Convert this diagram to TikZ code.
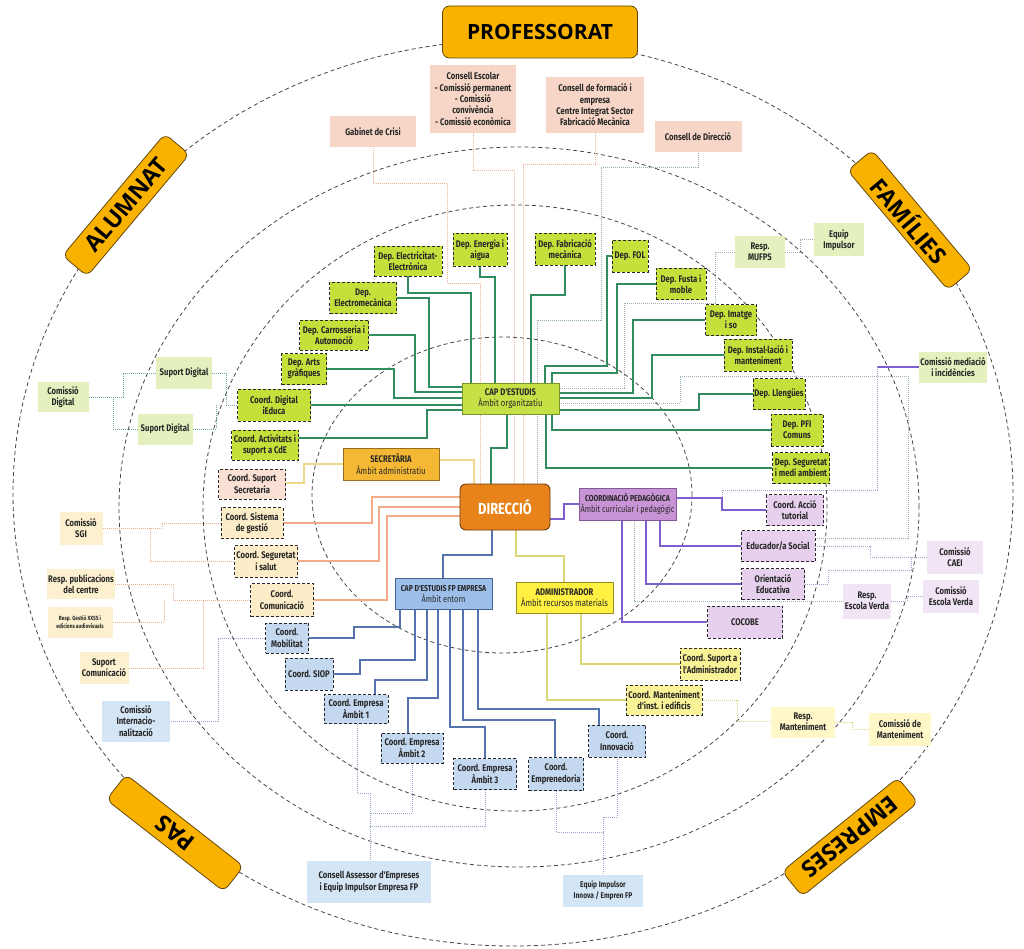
\documentclass[tikz,border=0pt]{standalone}
\usepackage{fontspec}
\setmainfont{Fira Sans}
\newfontfamily\cf[FakeStretch=0.8]{Fira Sans}
\newfontfamily\tf{Open Sans}
\usetikzlibrary{backgrounds}
\definecolor{txt}{RGB}{40,40,40}
\definecolor{orL}{RGB}{250,178,0}
\definecolor{orB}{RGB}{100,72,10}
\definecolor{dirF}{RGB}{232,131,28}
\definecolor{dirB}{RGB}{110,60,10}
\definecolor{capF}{RGB}{198,225,70}
\definecolor{capB}{RGB}{120,150,40}
\definecolor{gdepc}{RGB}{197,224,58}
\definecolor{secF}{RGB}{244,184,52}
\definecolor{secB}{RGB}{150,110,30}
\definecolor{cpedF}{RGB}{201,148,214}
\definecolor{cpedB}{RGB}{130,90,150}
\definecolor{cfpF}{RGB}{156,190,232}
\definecolor{cfpB}{RGB}{70,100,150}
\definecolor{admF}{RGB}{255,240,65}
\definecolor{admB}{RGB}{150,140,40}
\definecolor{pinkF}{RGB}{247,214,199}
\definecolor{pinkD}{RGB}{250,224,212}
\definecolor{ylD}{RGB}{252,236,200}
\definecolor{ylL}{RGB}{252,240,206}
\definecolor{lgr}{RGB}{228,241,190}
\definecolor{purD}{RGB}{230,208,238}
\definecolor{purL}{RGB}{241,229,245}
\definecolor{bluD}{RGB}{196,216,240}
\definecolor{bluL}{RGB}{212,229,246}
\definecolor{yelD}{RGB}{250,242,150}
\definecolor{yelL}{RGB}{255,247,200}
\definecolor{cGl}{RGB}{50,140,95}
\definecolor{cSal}{RGB}{242,170,135}
\definecolor{cSalD}{RGB}{240,178,150}
\definecolor{cGray}{RGB}{150,175,185}
\definecolor{cPur}{RGB}{125,95,205}
\definecolor{cPurD}{RGB}{170,160,210}
\definecolor{cBlue}{RGB}{85,115,175}
\definecolor{cBlueD}{RGB}{150,165,205}
\definecolor{cYel}{RGB}{220,215,120}
\definecolor{cSec}{RGB}{240,215,140}
\definecolor{cGD}{RGB}{110,170,150}
\definecolor{ellC}{RGB}{70,70,70}
\begin{document}
\begin{tikzpicture}[x=1pt,y=-1pt,
  every node/.style={align=center, inner sep=1pt, text=txt, font=\cf\bfseries\fontsize{9.6}{11.3}\selectfont},
  sz/.style 2 args={minimum width=#1pt, minimum height=#2pt},
  dsh/.style={draw=txt, dash pattern=on 3pt off 2pt, line width=0.8pt},
  olab/.style={draw=orB, fill=orL, rounded corners=7pt, line width=0.8pt, text=black, font=\tf\bfseries\fontsize{23}{26}\selectfont},
  gdep/.style={dsh, fill=gdepc},
  pinkbox/.style={fill=pinkF},
  pdash/.style={dsh, fill=pinkD},
  ydash/.style={dsh, fill=ylD},
  ylight/.style={fill=ylL},
  glight/.style={fill=lgr},
  udash/.style={dsh, fill=purD},
  ulight/.style={fill=purL},
  bdash/.style={dsh, fill=bluD},
  blight/.style={fill=bluL},
  kdash/.style={dsh, fill=yelD},
  klight/.style={fill=yelL},
  mainbox/.style={draw=#1, line width=0.9pt},
  ell/.style={draw=ellC, dash pattern=on 4pt off 3pt, line width=0.8pt},
  gl/.style={draw=cGl, line width=1.1pt},
  ls/.style={draw=cSal, line width=1.1pt},
  lsd/.style={draw=cSalD, line width=0.9pt, dash pattern=on 1pt off 1pt},
  gd/.style={draw=cGray, line width=0.9pt, dash pattern=on 1pt off 1pt},
  lp/.style={draw=cPur, line width=1.1pt},
  pd/.style={draw=cPurD, line width=0.9pt, dash pattern=on 1pt off 1pt},
  lb/.style={draw=cBlue, line width=1.1pt},
  bd/.style={draw=cBlueD, line width=0.9pt, dash pattern=on 1pt off 1pt},
  ly/.style={draw=cYel, line width=1.1pt},
  lyd/.style={draw=cYel, line width=0.9pt, dash pattern=on 1pt off 1pt},
  lsec/.style={draw=cSec, line width=1.1pt},
  ggd/.style={draw=cGD, line width=0.9pt, dash pattern=on 1pt off 1pt}
]
\useasboundingbox (0,0) rectangle (1024,949);

% outer labels
\node[olab, sz={195}{52}, font=\tf\bfseries\fontsize{21}{24}\selectfont] (prof) at (540,32) {PROFESSORAT};
\node[olab, sz={159}{32}, rotate=50] (alum) at (126,205) {ALUMNAT};
\node[olab, sz={156}{32}, rotate=-50] (fam) at (910,220) {FAMÍLIES};
\node[olab, sz={149}{32}, rotate=142] (pas) at (175,833) {PAS};
\node[olab, sz={149}{32}, rotate=-141] (emp) at (850,837) {EMPRESES};

% central boxes
\node[draw=dirB, fill=dirF, line width=0.9pt, rounded corners=6pt, sz={90}{46}, text=white, font=\cf\bfseries\fontsize{16}{18}\selectfont] (dir) at (505,507) {DIRECCIÓ};
\node[mainbox=capB, fill=capF, sz={97}{31}] (cap) at (510.5,398.5) {CAP D'ESTUDIS\\{\mdseries Àmbit organitzatiu}};
\node[mainbox=secB, fill=secF, sz={96}{32}] (sec) at (391,464) {SECRETÀRIA\\{\mdseries Àmbit administratiu}};
\node[mainbox=cpedB, fill=cpedF, sz={97}{32}, font=\cf\bfseries\fontsize{8.6}{11}\selectfont] (cped) at (627.5,504) {COORDINACIÓ PEDAGÒGICA\\{\mdseries\fontsize{9.2}{11}\selectfont Àmbit curricular i pedagògic}};
\node[mainbox=cfpB, fill=cfpF, sz={97}{31}, font=\cf\bfseries\fontsize{8.6}{11}\selectfont] (cfp) at (443.5,593.5) {CAP D'ESTUDIS FP EMPRESA\\{\mdseries\fontsize{9.2}{11}\selectfont Àmbit entorn}};
\node[mainbox=admB, fill=admF, sz={97}{31}] (adm) at (564.5,597.5) {ADMINISTRADOR\\{\mdseries Àmbit recursos materials}};

% pink top boxes
\node[pinkbox, sz={86}{31}] (gab) at (373,132) {Gabinet de Crisi};
\node[pinkbox, sz={86}{68}] (cesc) at (473,99) {Consell Escolar\\- Comissió permanent\\- Comissió\\convivència\\- Comissió econòmica};
\node[pinkbox, sz={98}{56}] (cform) at (595,105) {Consell de formació i\\empresa\\Centre Integrat Sector\\Fabricació Mecànica};
\node[pinkbox, sz={87}{31}] (cdir) at (698,137) {Consell de Direcció};

% green departments
\node[gdep, sz={68}{30}] (delec) at (408,261) {Dep. Electricitat-\\Electrònica};
\node[gdep, sz={54}{33}] (dener) at (480,250) {Dep. Energia i\\aigua};
\node[gdep, sz={60}{32}] (dfab) at (565,249) {Dep. Fabricació\\mecànica};
\node[gdep, sz={36}{32}] (dfol) at (630,256) {Dep. FOL};
\node[gdep, sz={67}{31}] (demec) at (363,298) {Dep.\\Electromecànica};
\node[gdep, sz={69}{30}] (dcarr) at (334,335) {Dep. Carrosseria i\\Automoció};
\node[gdep, sz={45}{31}] (darts) at (304,369) {Dep. Arts\\gràfiques};
\node[gdep, sz={73}{32}] (cdig) at (274,405) {Coord. Digital\\iEduca};
\node[gdep, sz={67}{30}] (cact) at (265,445) {Coord. Activitats i\\suport a CdE};
\node[gdep, sz={50}{31}] (dfust) at (681,284) {Dep. Fusta i\\moble};
\node[gdep, sz={51}{31}] (dimat) at (731,320) {Dep. Imatge\\i so};
\node[gdep, sz={68}{32}] (dinst) at (758,355) {Dep. Instal·lació i\\manteniment};
\node[gdep, sz={52}{31}] (dlle) at (779,394) {Dep. Llengües};
\node[gdep, sz={52}{32}] (dpfi) at (797,430) {Dep. PFI\\Comuns};
\node[gdep, sz={57}{31}] (dseg) at (801,468) {Dep. Seguretat\\i medi ambient};

% left coordinators
\node[pdash, sz={67}{30}] (csec) at (252,484) {Coord. Suport\\Secretaria};
\node[ydash, sz={62}{31}] (csist) at (252,523) {Coord. Sistema\\de gestió};
\node[ydash, sz={63}{32}] (csegs) at (266,561) {Coord. Seguretat\\i salut};
\node[ydash, sz={63}{33}] (ccom) at (282,600) {Coord.\\Comunicació};

% purple
\node[udash, sz={57}{31}] (cacc) at (795,510) {Coord. Acció\\tutorial};
\node[udash, sz={74}{31}] (edu) at (778,546) {Educador/a Social};
\node[udash, sz={63}{31}] (ori) at (773,584) {Orientació\\Educativa};
\node[udash, sz={75}{32}] (coc) at (745,622) {COCOBE};

% light green
\node[glight, sz={50}{32}] (mufps) at (760,252) {Resp.\\MUFPS};
\node[glight, sz={50}{33}] (eqi) at (839,240) {Equip\\Impulsor};
\node[glight, sz={62}{31}] (cmed) at (953,367) {Comissió mediació\\i incidències};
\node[glight, sz={51}{30}] (comdig) at (63,397) {Comissió\\Digital};
\node[glight, sz={56}{32}] (sd1) at (184,373) {Suport Digital};
\node[glight, sz={55}{31}] (sd2) at (165,429) {Suport Digital};

% light purple
\node[ulight, sz={56}{33}] (caei) at (955,557) {Comissió\\CAEI};
\node[ulight, sz={48}{35}] (rev) at (867,601) {Resp.\\Escola Verda};
\node[ulight, sz={56}{33}] (cev) at (951,596) {Comissió\\Escola Verda};

% light yellow
\node[ylight, sz={43}{33}] (sgi) at (81,528) {Comissió\\SGI};
\node[ylight, sz={65}{30}] (rpub) at (81,584) {Resp. publicacions\\del centre};
\node[ylight, sz={65}{31}, font=\cf\bfseries\fontsize{6}{8}\selectfont] (rgest) at (80,622) {Resp. Gestió XXSS i\\edicions audiovisuals};
\node[ylight, sz={49}{32}] (scom) at (104,668) {Suport\\Comunicació};

% yellow
\node[klight, sz={64}{31}] (rman) at (803,722) {Resp.\\Manteniment};
\node[klight, sz={62}{33}] (cman) at (900,729) {Comissió de\\Manteniment};
\node[kdash, sz={60}{32}] (csad) at (710,664) {Coord. Suport a\\l'Administrador};
\node[kdash, sz={76}{30}] (cmant) at (664,700) {Coord. Manteniment\\d'inst. i edificis};

% blue
\node[bdash, sz={43}{30}] (cmob) at (287,638) {Coord.\\Mobilitat};
\node[bdash, sz={48}{32}] (csiop) at (309,674) {Coord. SIOP};
\node[bdash, sz={64}{29}] (ce1) at (356,709) {Coord. Empresa\\Àmbit 1};
\node[bdash, sz={62}{30}] (ce2) at (412,748) {Coord. Empresa\\Àmbit 2};
\node[bdash, sz={63}{31}] (ce3) at (485,774) {Coord. Empresa\\Àmbit 3};
\node[bdash, sz={55}{33}] (cempr) at (556,774) {Coord.\\Emprenedoria};
\node[bdash, sz={57}{32}] (cinn) at (617,741) {Coord.\\Innovació};
\node[blight, sz={68}{41}] (cint) at (136,721) {Comissió\\Internacio-\\nalització};
\node[blight, sz={124}{42}] (cass) at (369,882) {Consell Assessor d'Empreses\\i Equip Impulsor Empresa FP};
\node[blight, sz={80}{32}, font=\cf\bfseries\fontsize{8.3}{11}\selectfont] (eqinn) at (603,891) {Equip Impulsor\\Innova / Empren FP};

% junction coordinates
\coordinate (jmed) at (877,367);
\coordinate (jsgi) at (150,528);
\coordinate (jcom) at (203,600);
\coordinate (jdig) at (216,405);
\coordinate (jcd) at (113,397);
\coordinate (jas1) at (370,813);
\coordinate (jas2) at (370,826);
\coordinate (jin) at (603,832);
\coordinate (jcaei) at (911,557);

\begin{pgfonlayer}{background}
\fill[white] (0,0) rectangle (1024,949);
\draw[ell] (502,495) ellipse [x radius=190pt, y radius=158pt];
\draw[ell] (515,508) ellipse [x radius=312pt, y radius=303pt];
\draw[ell] (519,507) ellipse [x radius=400pt, y radius=360pt];
\draw[ell] (513,493) ellipse [x radius=500pt, y radius=453pt];

% dotted from top boxes
\draw[lsd] (gab.south) |- (447,183) |- (480,283) -- (480,0 |- dir.north);
\draw[lsd] (cesc.south) |- (514,170) -- (514,0 |- dir.north);
\draw[lsd] (cform.south) |- (523,164) -- (523,0 |- dir.north);
\draw[gd] (cdir.south) |- (601,167) |- (537,320) -- (537,0 |- dir.north);
\draw[gd] (mufps.west) -| (715,303) -| (624,388) -- (cap.east |- 0,388);
\draw[gd] (mufps.east) -| (800,239) -- (eqi.west |- 0,239);

% green solid
\draw[gl] (delec.south) |- (471,293) -- (471,0 |- cap.north);
\draw[gl] (dener.south) |- (495,277) -- (495,0 |- cap.north);
\draw[gl] (dfab.south) |- (531,295) -- (531,0 |- cap.north);
\draw[gl] (demec.east) -| (429,387) -- (cap.west |- 0,387);
\draw[gl] (dcarr.east) -| (415,392) -- (cap.west |- 0,392);
\draw[gl] (darts.east) -| (394,398) -- (cap.west |- 0,398);
\draw[gl] (cdig.east) -- (cap.west |- cdig.east);
\draw[gl] (cact.east |- 0,438) -| (427,410) -- (cap.west |- 0,410);
\draw[gl] (dfol.west) -| (607,366) -| (545,0 |- cap.north);
\draw[gl] (dfust.west) -| (617,373) -| (552,0 |- cap.north);
\draw[gl] (dimat.west) -| (633,393) -- (cap.east |- 0,393);
\draw[gl] (dinst.west) -| (652,398) -- (cap.east |- 0,398);
\draw[gl] (dlle.west) -| (699,410) -- (cap.east |- 0,410);
\draw[gl] (dpfi.west) -| (552,0 |- cap.south);
\draw[gl] (dseg.west) -| (546,0 |- cap.south);
\draw[gl] (cap.south -| 507,0) |- (491,448) -- (491,0 |- dir.north);

% mediation / purple
\draw[lp] (cmed.west) -- (jmed);
\draw[pd] (jmed) |- (722,490) |- (cped.east |- 0,498);
\draw[gd] (edu.east |- 0,538) -| (908,376) -- (680,376) |- (cap.east |- 0,403);
\draw[lp] (cacc.west) -| (722,498) -- (cped.east |- 0,498);
\draw[lp] (edu.west) -| (660,0 |- cped.south);
\draw[lp] (ori.west) -| (646,0 |- cped.south);
\draw[lp] (coc.west) -| (622,0 |- cped.south);
\draw[lp] (dir.east |- 0,519) -| (564,504) -- (cped.west |- 0,504);
\draw[pd] (edu.east) -| (870,557) -- (caei.west);
\draw[pd] (ori.east) -| (828,570) -| (jcaei);
\draw[gd] (cped.south -| 634,0) |- (rev.west);
\draw[pd] (rev.east) -| (907,596) -- (cev.west);

% secretaria and salmon
\draw[lsec] (dir.north -| 474,0) |- (sec.east |- 0,460);
\draw[lsec] (sec.west |- 0,464) -| (304,483) -- (csec.east |- 0,483);
\draw[ls] (dir.west |- 0,497) -| (372,523) -- (csist.east |- 0,523);
\draw[ls] (dir.west |- 0,507) -| (379,561) -- (csegs.east);
\draw[ls] (dir.west |- 0,516) -| (387,600) -- (ccom.east);
\draw[lsd] (sgi.east) -| (162,523) -- (csist.west |- 0,523);
\draw[lsd] (jsgi) |- (csegs.west);
\draw[lsd] (rpub.east) -| (173,600) -- (ccom.west);
\draw[lsd] (rgest.east) -| (164,600);
\draw[lsd] (scom.east) -| (jcom);

% digital
\draw[ggd] (sd1.east) -| (226,405) -- (cdig.west);
\draw[ggd] (sd2.east) -| (jdig);
\draw[ggd] (comdig.east) -| (123,373) -- (sd1.west);
\draw[ggd] (jcd) |- (sd2.west);

% blue
\draw[lb] (dir.south -| 492,0) |- (443,555) -- (443,0 |- cfp.north);
\draw[lb] (cfp.south -| 400,0) |- (354,627) |- (cmob.east |- 0,638);
\draw[lb] (cfp.south -| 415,0) |- (360,660) |- (csiop.east);
\draw[lb] (cfp.south -| 427,0) |- (375,680) -- (375,0 |- ce1.north);
\draw[lb] (cfp.south -| 438,0) |- (408,698) -- (408,0 |- ce2.north);
\draw[lb] (cfp.south -| 450,0) |- (485,727) -- (ce3.north);
\draw[lb] (cfp.south -| 463,0) |- (555,720) -- (555,0 |- cempr.north);
\draw[lb] (cfp.south -| 478,0) |- (599,709) -- (599,0 |- cinn.north);
\draw[bd] (cmob.west) -| (218,721) -- (cint.east);
\draw[bd] (ce1.south -| 357,0) |- (370,793) -- (370,0 |- cass.north);
\draw[bd] (ce2.south) |- (jas1);
\draw[bd] (ce3.south) |- (jas2);
\draw[bd] (cempr.south) |- (jin);
\draw[bd] (cinn.south) |- (603,817) -- (603,0 |- eqinn.north);

% yellow
\draw[ly] (dir.south -| 516,0) |- (564,556) -- (564,0 |- adm.north);
\draw[ly] (adm.south -| 581,0) |- (csad.west);
\draw[ly] (adm.south -| 547,0) |- (cmant.west);
\draw[lyd] (cmant.east) -| (737,721) -- (rman.west |- 0,721);
\draw[lyd] (rman.east) -| (852,729) -- (cman.west);
\end{pgfonlayer}
\end{tikzpicture}
\end{document}
